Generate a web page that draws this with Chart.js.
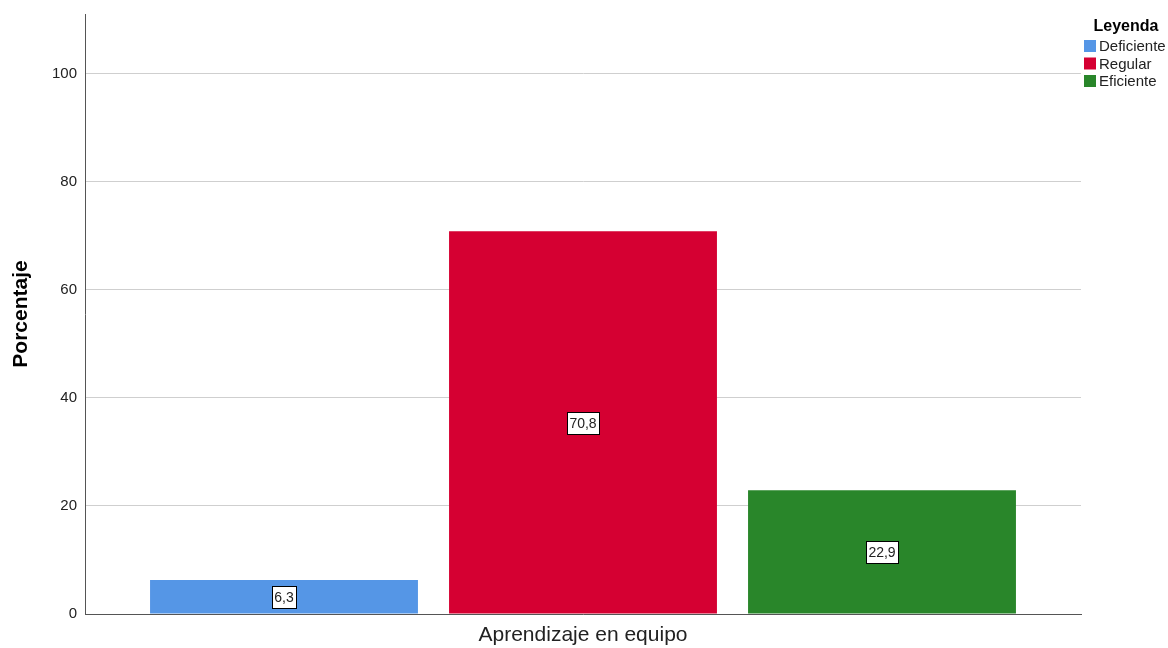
<!DOCTYPE html>
<html>
<head>
<meta charset="utf-8">
<script src="https://cdn.jsdelivr.net/npm/chart.js@4/dist/chart.umd.min.js"></script>
<style>
  html, body { margin: 0; padding: 0; background: #fff; }
  #wrap { width: 1168px; height: 648px; }
</style>
</head>
<body>
<div id="wrap"><canvas id="chart"></canvas></div>
<script>
const categories = ['Aprendizaje en equipo'];
const seriesNames = ['Deficiente', 'Regular', 'Eficiente'];
const seriesValues = [[6.3], [70.8], [22.9]];
const seriesColors = ['#5596e6', '#d50032', '#29862a'];
const yTicks = [0, 20, 40, 60, 80, 100];
const yMax = 111;

const FONT = '"Liberation Sans", Arial, sans-serif';
const fmt = v => v.toFixed(1).replace('.', ',');

// boxed value label in the middle of each bar
const barLabels = {
  id: 'barLabels',
  afterDatasetsDraw(chart) {
    const ctx = chart.ctx;
    const y = chart.scales.y;
    ctx.save();
    ctx.font = '14px ' + FONT;
    ctx.textAlign = 'center';
    ctx.textBaseline = 'middle';
    chart.data.datasets.forEach((ds, i) => {
      chart.getDatasetMeta(i).data.forEach((bar, j) => {
        const v = ds.data[j];
        const txt = fmt(v);
        const cy = y.getPixelForValue(v / 2);
        const w = Math.round(ctx.measureText(txt).width + 5);
        const h = 22;
        const bx = Math.round(bar.x - w / 2) + 0.5;
        const by = Math.round(cy - h / 2) + 0.5;
        ctx.fillStyle = '#fff';
        ctx.fillRect(bx, by, w, h);
        ctx.strokeStyle = '#000';
        ctx.lineWidth = 1;
        ctx.strokeRect(bx, by, w, h);
        ctx.fillStyle = '#222';
        ctx.fillText(txt, bar.x, cy + 1);
      });
    });
    ctx.restore();
  }
};

// legend block at the top right
const legendBlock = {
  id: 'legendBlock',
  afterDraw(chart) {
    const ctx = chart.ctx;
    ctx.save();
    ctx.fillStyle = '#000';
    ctx.font = 'bold 16px ' + FONT;
    ctx.textAlign = 'center';
    ctx.textBaseline = 'middle';
    ctx.fillText('Leyenda', 1126, 27);
    ctx.font = '15px ' + FONT;
    ctx.textAlign = 'left';
    seriesNames.forEach((name, i) => {
      const ry = 46 + i * 17.5;
      ctx.fillStyle = seriesColors[i];
      ctx.fillRect(1084, ry - 6, 12, 12);
      ctx.fillStyle = '#222';
      ctx.fillText(name, 1099, ry + 1);
    });
    ctx.restore();
  }
};

new Chart(document.getElementById('chart'), {
  type: 'bar',
  data: {
    labels: categories,
    datasets: seriesNames.map((name, i) => ({
      label: name,
      data: seriesValues[i],
      backgroundColor: seriesColors[i],
      borderWidth: 0,
      categoryPercentage: 0.9006,
      barPercentage: 0.896,
    }))
  },
  options: {
    responsive: true,
    maintainAspectRatio: false,
    animation: false,
    layout: { padding: { top: 14, right: 87, left: 0, bottom: 0 } },
    plugins: {
      legend: { display: false },
      tooltip: { enabled: false },
    },
    scales: {
      x: {
        grid: { display: false },
        border: { display: true, color: '#555', width: 1 },
        ticks: {
          color: '#222',
          padding: 1,
          font: { family: FONT, size: 21 },
        },
        afterFit(scale) { scale.height = 34; },
      },
      y: {
        min: 0,
        max: yMax,
        afterBuildTicks(scale) { scale.ticks = yTicks.map(v => ({ value: v })); },
        grid: { color: '#cfcfcf', drawTicks: false },
        border: { display: true, color: '#555', width: 1 },
        ticks: {
          color: '#222',
          padding: 8,
          font: { family: FONT, size: 15 },
        },
        title: {
          display: true,
          text: 'Porcentaje',
          color: '#000',
          padding: { top: 9, bottom: 0 },
          font: { family: FONT, size: 21, weight: 'bold' },
        },
        afterFit(scale) {
          scale.width = 85;
          scale.paddingTop = 0;
          scale.paddingBottom = 0;
        },
      }
    }
  },
  plugins: [barLabels, legendBlock]
});
</script>
</body>
</html>
